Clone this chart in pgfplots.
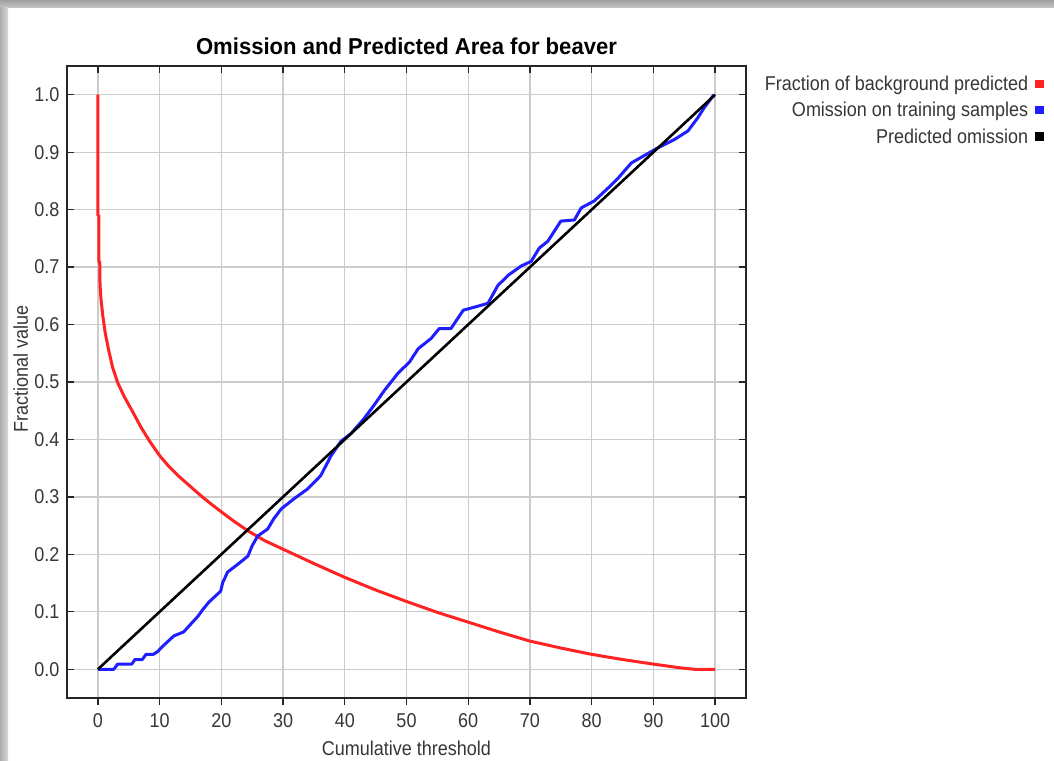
\documentclass[border=0pt]{standalone}
\usepackage{fontspec}
\setmainfont{Liberation Sans}[FakeStretch=0.9]
\newfontfamily\titlefont{Liberation Sans}[FakeStretch=0.96]
\usepackage{pgfplots}
\pgfplotsset{compat=1.18}
\definecolor{mred}{RGB}{255,35,35}
\definecolor{mblue}{RGB}{30,30,255}
\definecolor{lbl}{RGB}{55,55,55}
\begin{document}
\begin{tikzpicture}[x=1pt,y=1pt]
\useasboundingbox (0pt,0pt) rectangle (1054pt,760pt);
\fill[white] (0pt,0pt) rectangle (1054pt,760pt);
\shade[top color=gray!75, bottom color=gray!45] (0pt,752pt) rectangle (1054pt,760pt);
\shade[left color=gray!65, right color=gray!30] (0pt,0pt) rectangle (8pt,752pt);
\begin{axis}[
  at={(67pt,62pt)}, anchor=south west, scale only axis,
  width=679pt, height=632pt,
  xmin=-5, xmax=105, ymin=-0.05, ymax=1.05,
  xtick={0,10,20,30,40,50,60,70,80,90,100},
  ytick={0,0.1,0.2,0.3,0.4,0.5,0.6,0.7,0.8,0.9,1.0},
  yticklabel style={xshift=3pt, /pgf/number format/.cd,fixed,fixed zerofill,precision=1},
  /pgf/number format/assume math mode=true,
  tick label style={font=\fontsize{20}{24}\selectfont, text=lbl},
  xticklabel style={yshift=-5pt},
  grid=major, major grid style={gray!40, line width=1.3pt},
  axis line style={black!85, line width=1.6pt},
  tick align=outside, xtick pos=left, ytick style={draw=none},
  xtick style={black!85, line width=1.3pt}, major tick length=7pt,
  title={Omission and Predicted Area for beaver},
  title style={font=\titlefont\bfseries\fontsize{23}{27}\selectfont, at={(axis description cs:0.5,1.021)}, anchor=center},
  xlabel={Cumulative threshold},
  xlabel style={font=\fontsize{20}{24}\selectfont, text=lbl, at={(axis description cs:0.5,-0.079)}, anchor=center},
  ylabel={Fractional value},
  ylabel style={font=\fontsize{20}{24}\selectfont, text=lbl, at={(axis description cs:-0.068,0.52)}, anchor=center},
  legend style={at={(axis description cs:1.443,0.99)}, anchor=north east, draw=none, fill=none,
    font=\fontsize{20}{24}\selectfont, text=lbl, row sep=7.5pt, nodes={inner sep=1.5pt}},
  legend cell align=right, legend plot pos=right,
]
\addplot[mred, line width=3pt, line join=round,
  legend image code/.code={\path[draw=none,fill=none] (0pt,-4pt) rectangle (14pt,4pt); \path[draw=none,fill=mred] (5.5pt,-4pt) rectangle (14pt,4.5pt);}] coordinates {
(0,1.0) (0,0.79) (0.15,0.79) (0.15,0.71) (0.3,0.71) (0.35,0.67) (0.5,0.645) (0.8,0.615) (1.2,0.585) (1.8,0.553) (2.4,0.525) (3.2,0.499) (4.3,0.474) (5.6,0.449) (7,0.421) (8.5,0.395) (10,0.372) (11.5,0.353) (13,0.337) (15,0.318) (16.7,0.302) (18.3,0.288) (20,0.274) (22,0.258) (24.3,0.241) (27,0.224) (30,0.209) (35,0.184) (40,0.160) (45,0.138) (50,0.118) (55,0.099) (60,0.082) (65,0.065) (70,0.049) (75,0.037) (80,0.026) (85,0.017) (90,0.009) (94,0.003) (96.6,0.0) (100,0.0)
};
\addlegendentry{Fraction of background predicted}
\addplot[mblue, line width=3pt, line join=round,
  legend image code/.code={\path[draw=none,fill=none] (0pt,-4pt) rectangle (14pt,4pt); \path[draw=none,fill=mblue] (5.5pt,-4pt) rectangle (14pt,4.5pt);}] coordinates {
(0,0) (2.6,0) (3.2,0.009) (5.5,0.009) (6.0,0.017) (7.2,0.017) (7.8,0.026) (9.0,0.026) (9.7,0.031) (10.5,0.04) (11.5,0.05) (12.3,0.058) (13.9,0.065) (15,0.078) (16.2,0.092) (17,0.104) (18,0.117) (19.9,0.136) (20.2,0.15) (21,0.169) (22.7,0.183) (24.3,0.197) (25,0.215) (25.9,0.232) (27.5,0.244) (28.5,0.262) (29.7,0.279) (31.8,0.297) (34,0.314) (36.1,0.337) (37.8,0.372) (39.4,0.397) (41,0.41) (43.1,0.436) (44.7,0.459) (46.4,0.485) (48.6,0.515) (50.5,0.535) (51.9,0.558) (54,0.576) (55.3,0.593) (57.2,0.593) (59.2,0.625) (61.6,0.632) (63.2,0.637) (64.8,0.668) (66.5,0.686) (68.6,0.702) (70.2,0.710) (71.5,0.733) (72.9,0.745) (75.0,0.780) (77.2,0.782) (78.3,0.803) (80.4,0.815) (82.7,0.838) (84.3,0.855) (86.4,0.881) (88.5,0.894) (90.8,0.908) (93.4,0.922) (95.6,0.937) (97.2,0.960) (98.2,0.977) (99.8,1.0)
};
\addlegendentry{Omission on training samples}
\addplot[black, line width=2.6pt,
  legend image code/.code={\path[draw=none,fill=none] (0pt,-4pt) rectangle (14pt,4pt); \path[draw=none,fill=black] (5.5pt,-4pt) rectangle (14pt,4.5pt);}] coordinates {
(0,0) (100,1)
};
\addlegendentry{Predicted omission}
\end{axis}
\begin{axis}[
  at={(67pt,62pt)}, anchor=south west, scale only axis,
  width=679pt, height=632pt,
  xmin=-5, xmax=105, ymin=-0.05, ymax=1.05,
  xtick={0,10,20,30,40,50,60,70,80,90,100},
  ytick={0,0.1,0.2,0.3,0.4,0.5,0.6,0.7,0.8,0.9,1.0},
  xticklabels={}, yticklabels={},
  tick align=inside, xtick pos=right, ytick pos=both,
  major tick length=7pt, tick style={black!85, line width=1.3pt},
  axis line style={black!85, line width=1.6pt},
]
\end{axis}
\end{tikzpicture}
\end{document}
